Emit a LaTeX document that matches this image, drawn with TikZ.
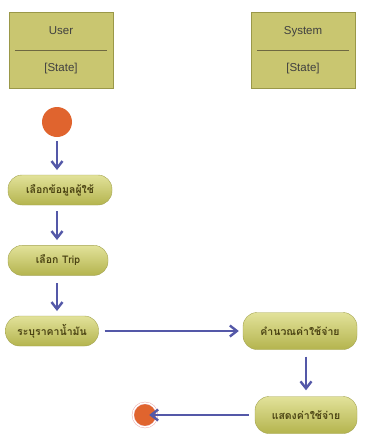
\documentclass[tikz,border=0pt]{standalone}
\usepackage{fontspec}
\setmainfont{Liberation Sans}
\newfontfamily\thaifont[Script=Thai]{Loma}
\usetikzlibrary{positioning}
\usetikzlibrary{arrows.meta}
\definecolor{color_lane}{HTML}{c9c670}
\definecolor{color_lane_border}{HTML}{9a9848}
\definecolor{color_act_top}{HTML}{e2e29a}
\definecolor{color_act_bottom}{HTML}{b4b44e}
\definecolor{color_act_border}{HTML}{a4a450}
\definecolor{color_text}{HTML}{4a4212}
\definecolor{color_flow}{HTML}{5458a8}
\definecolor{color_dot}{HTML}{e0642e}
\definecolor{color_ring}{HTML}{e8a0a0}

\begin{document}
\begin{tikzpicture}[x=1pt, y=-1pt]
  \tikzset{ % Specifications for style of nodes:
      lane/.style = {rectangle, draw=color_lane_border, fill=color_lane, minimum width=104pt,
                     minimum height=76pt, align=center, text=black!75, font=\fontsize{11.5}{12}\selectfont},
      act/.style = {rectangle, rounded corners=14pt, draw=color_act_border, top color=color_act_top,
                    bottom color=color_act_bottom, minimum height=30pt, text=color_text,
                    font=\thaifont\bfseries\fontsize{10.5}{12}\selectfont, inner sep=2pt},
      startdot/.style = {circle, fill=color_dot, minimum size=30pt, inner sep=0pt},
      enddot/.style = {circle, fill=color_dot, draw=color_ring, double=white, double distance=1.5pt,
                       minimum size=24pt, inner sep=0pt},
      flow/.style = {-{Straight Barb[length=7pt, width=11pt]}, color_flow, line width=2.4pt},
  }
  \useasboundingbox (0,0) rectangle (365,437);
  \fill[white] (0,0) rectangle (365,437);

  \node (user) [lane] at (61,50) {User\\[25pt]{[State]}};
  \node (system) [lane] at (303,50) {System\\[25pt]{[State]}};
  \draw[color_text!80, line width=0.5pt] ([xshift=6pt]user.west) -- ([xshift=-6pt]user.east);
  \draw[color_text!80, line width=0.5pt] ([xshift=6pt]system.west) -- ([xshift=-6pt]system.east);

  \node (start) [startdot] at (57,122) {};
  \node (pickdata) [act, minimum width=104pt] at (60,190) {เลือกข้อมูลผู้ใช้};
  \node (picktrip) [act, minimum width=100pt, below=40pt of pickdata.south, anchor=north, xshift=-2pt] {เลือก Trip};
  \node (oilprice) [act, minimum width=93pt] at (52,331) {ระบุราคาน้ำมัน};
  \node (calccost) [act, minimum width=114pt, minimum height=37pt] at (300,331) {คำนวณค่าใช้จ่าย};
  \node (showcost) [act, minimum width=102pt, minimum height=37pt] at (306,415) {แสดงค่าใช้จ่าย};
  \node (stop) [enddot] at (145,415) {};

  \draw[flow] (57,141) -- (57,170);
  \draw[flow] (57,211) -- (57,240);
  \draw[flow] (57,283) -- (57,311);
  \draw[flow] ([xshift=6pt]oilprice.east) -- ([xshift=-4pt]calccost.west);
  \draw[flow] ([yshift=-7pt]calccost.south -| showcost.north) -- ([yshift=6pt]showcost.north);
  \draw[flow] ([xshift=-6pt]showcost.west) -- ([xshift=-8pt]stop.east);
\end{tikzpicture}
\end{document}
